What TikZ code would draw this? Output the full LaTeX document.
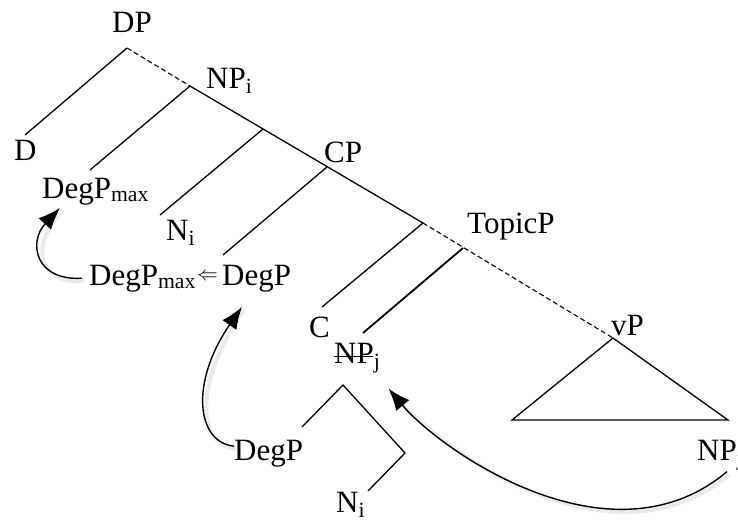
\documentclass[tikz,border=0pt]{standalone}
\usepackage{fontspec}
\setmainfont{Liberation Serif}
\usetikzlibrary{arrows.meta}
\tikzset{
  lbl/.style={inner sep=0pt, anchor=base west, font=\fontsize{31}{36}\selectfont},
  branch/.style={line width=1.3pt},
  heavy/.style={line width=1.8pt},
  dashbranch/.style={line width=1.1pt, dash pattern=on 5pt off 3pt},
  move/.style={line width=1.4pt, -{Latex[length=22pt,width=17pt]},
               preaction={draw=black!20, opacity=0.4, line width=4pt, arrows=-,
                          transform canvas={shift={(2pt,-3pt)}}}}, % soft shadow
}

\begin{document}
\begin{tikzpicture}[x=1pt, y=-1pt]
  \useasboundingbox (0,0) rectangle (738,522);

  % labels
  \node[lbl] (dp) at (112,32) {DP};
  \node[lbl] (npi) at (206,88) {NP\textsubscript{i}};
  \node[lbl] (d) at (14,160) {D};
  \node[lbl] (cp) at (324,162) {CP};
  \node[lbl] (degpmaxa) at (42,198) {DegP\textsubscript{max}};
  \node[lbl] (ni) at (166,240) {N\textsubscript{i}};
  \node[lbl] (topicp) at (467,233) {TopicP};
  \node[lbl] (degpmaxb) at (89,285) {DegP\textsubscript{max}};
  \node[lbl, font=\fontsize{21}{21}\selectfont] (shiftarrow) at (197,280) {$\Leftarrow$};
  \node[lbl] (degpb) at (222,285) {DegP};
  \node[lbl] (c) at (309,337) {C};
  \node[lbl] (npj) at (334,363) {NP\textsubscript{j}};
  \node[lbl] (vp) at (611,335) {vP};
  \node[lbl] (npr) at (697,460) {NP\textsubscript{j}};
  \node[lbl] (degpc) at (234,460) {DegP};
  \node[lbl] (nib) at (336,512) {N\textsubscript{i}};

  % joints and branch ends
  \coordinate (dpj) at (127,48);
  \coordinate (npij) at (190,86);
  \coordinate (nij) at (263,129);
  \coordinate (cpj) at (327,167);
  \coordinate (topj) at (423,223);
  \coordinate (specj) at (463,248);
  \coordinate (vpj) at (613,338);
  \coordinate (dend) at (25,135);
  \coordinate (degmaxend) at (90,170);
  \coordinate (niend) at (160,215);
  \coordinate (degpend) at (223,255);
  \coordinate (cend) at (322,307);
  \coordinate (npjend) at (363,333);
  \coordinate (tril) at (512,420);
  \coordinate (trir) at (728,420);
  \coordinate (subj) at (343,385);
  \coordinate (subl) at (302,427);
  \coordinate (subr) at (405,453);
  \coordinate (subn) at (368,491);

  % tree
  \draw[branch] (dpj) -- (dend);
  \draw[dashbranch] (dpj) -- (npij);
  \draw[branch] (npij) -- (degmaxend);
  \draw[branch] (npij) -- (topj);
  \draw[branch] (nij) -- (niend);
  \draw[branch] (cpj) -- (degpend);
  \draw[branch] (topj) -- (cend);
  \draw[dashbranch] (topj) -- (vpj);
  \draw[heavy] (specj) -- (npjend);
  \draw[branch] (tril) -- (vpj) -- (trir) -- cycle;
  \draw[branch] (subl) -- (subj) -- (subr) -- (subn);
  \draw[line width=1pt] ([yshift=6.5pt]npj.base west) -- ++(39,0);

  % movement
  \draw[move] ([xshift=-7pt]degpmaxb.west) .. controls (35,281) and (28,242) .. ([xshift=18pt,yshift=-3pt]degpmaxa.south west);
  \draw[move] ([yshift=7pt]degpc.west) .. controls (196,442) and (190,382) .. ([xshift=20pt,yshift=-15pt]degpb.south west);
  \draw[move] ([xshift=30pt,yshift=-1pt]npr.south west) .. controls (610,570) and (440,450) .. ([xshift=8pt,yshift=-15pt]npj.south east);
\end{tikzpicture}
\end{document}
